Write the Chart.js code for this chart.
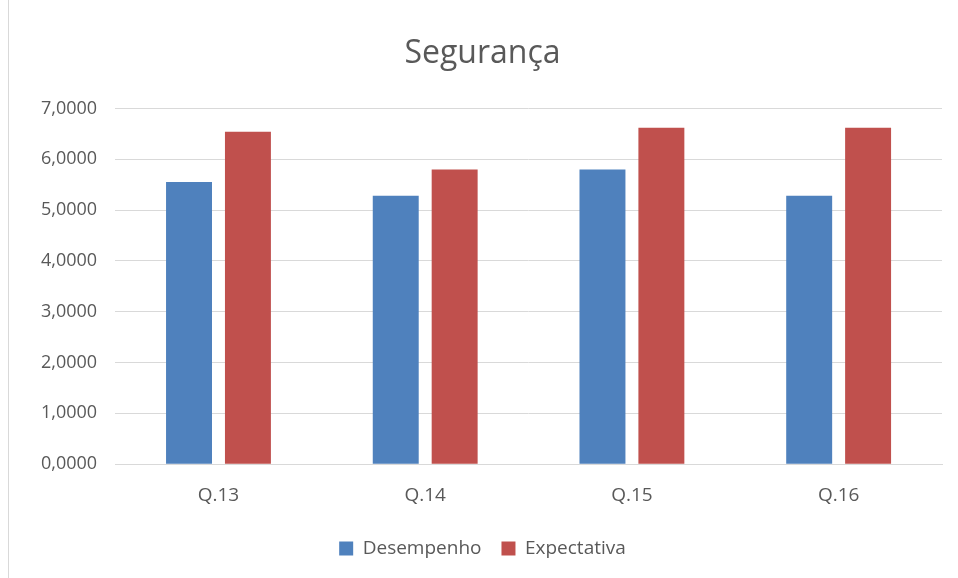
<!DOCTYPE html>
<html>
<head>
<meta charset="utf-8">
<script src="https://cdn.jsdelivr.net/npm/chart.js@4/dist/chart.umd.min.js"></script>
<style>
  html, body { margin: 0; padding: 0; background: #fff; }
  #wrap { position: relative; height: 578px; box-sizing: border-box; border-left: 1px solid #d9d9d9; margin-left: 8px; width: 950px; }
</style>
</head>
<body>
<div id="wrap"><canvas id="chart"></canvas></div>
<script>
// datos del gráfico
const categorias = ['Q.13', 'Q.14', 'Q.15', 'Q.16'];
const desempenho = [5.55, 5.28, 5.80, 5.28];
const expectativa = [6.54, 5.80, 6.62, 6.62];

const FONT = "'Open Sans', sans-serif";
const TEXT = '#595959';

new Chart(document.getElementById('chart'), {
  type: 'bar',
  data: {
    labels: categorias,
    datasets: [
      {
        label: 'Desempenho',
        data: desempenho,
        backgroundColor: '#4f81bd',
        categoryPercentage: 0.57,
        barPercentage: 0.78
      },
      {
        label: 'Expectativa',
        data: expectativa,
        backgroundColor: '#c0504d',
        categoryPercentage: 0.57,
        barPercentage: 0.78
      }
    ]
  },
  options: {
    responsive: true,
    maintainAspectRatio: false,
    animation: false,
    layout: { padding: { left: 14, right: 16, top: 10, bottom: 10 } },
    plugins: {
      title: {
        display: true,
        text: 'Segurança',
        color: TEXT,
        font: { family: FONT, size: 32, weight: 'normal' },
        padding: { top: 25, bottom: 35 }
      },
      legend: {
        position: 'bottom',
        labels: {
          color: TEXT,
          font: { family: FONT, size: 19 },
          boxWidth: 14,
          boxHeight: 14,
          padding: 20
        }
      },
      tooltip: { enabled: false }
    },
    scales: {
      x: {
        grid: { display: false },
        border: { color: '#d9d9d9' },
        ticks: { color: TEXT, font: { family: FONT, size: 19 }, padding: 12 }
      },
      y: {
        min: 0,
        max: 7,
        grid: { color: '#d9d9d9', drawTicks: false },
        border: { display: false },
        ticks: {
          stepSize: 1,
          color: TEXT,
          font: { family: FONT, size: 18 },
          padding: 18,
          callback: v => v.toFixed(4).replace('.', ',')
        }
      }
    }
  }
});
</script>
</body>
</html>
